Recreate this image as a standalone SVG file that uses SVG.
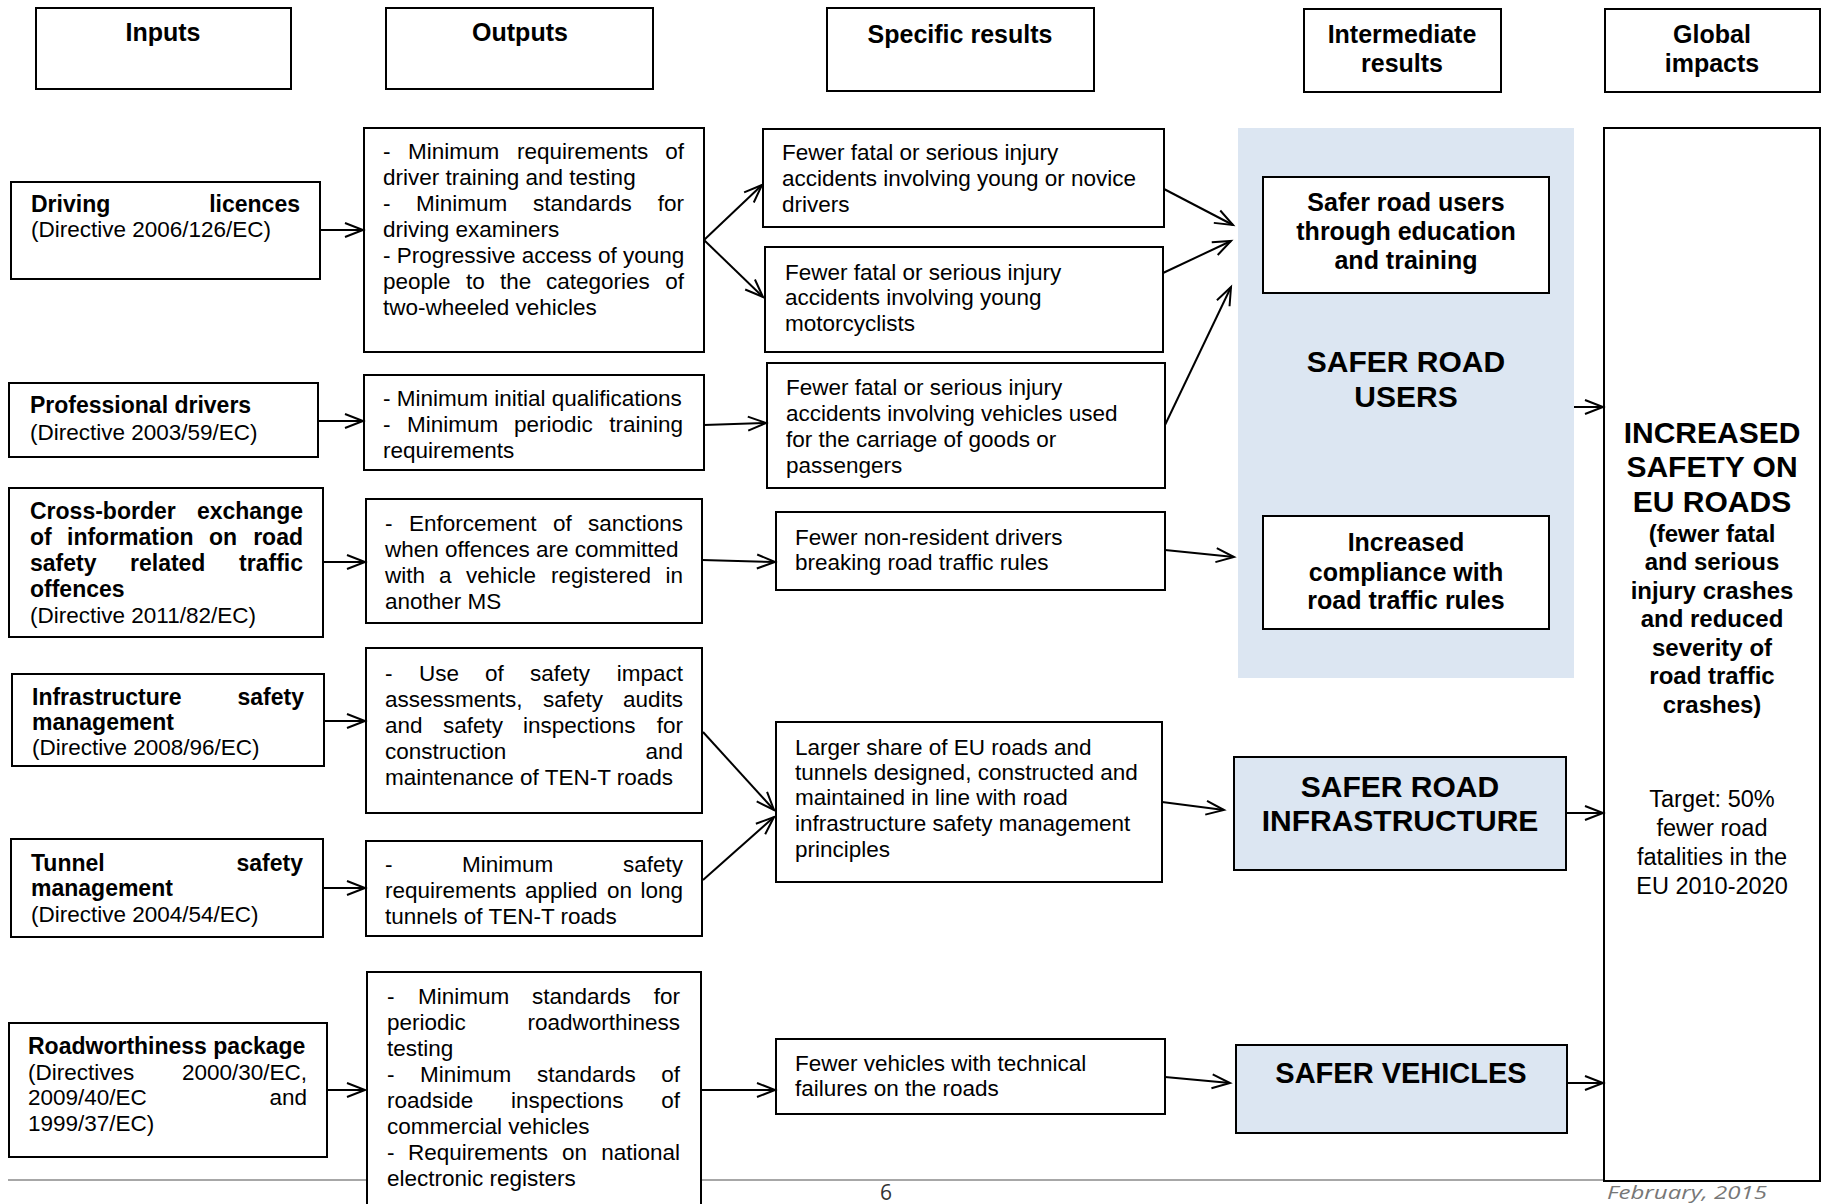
<svg xmlns="http://www.w3.org/2000/svg" width="1824" height="1204" viewBox="0 0 1824 1204">
<style>
.box{fill:#fff;stroke:#000;stroke-width:2}
.blue{fill:#dce6f2}
.bbox{fill:#dce6f2;stroke:#000;stroke-width:2}
text{font-family:"Liberation Sans",Arial,sans-serif;fill:#000}
.r{font-size:22.5px}
.ib{font-size:23px;font-weight:bold}
.h{font-size:25px;font-weight:bold;text-anchor:middle}
.big{font-size:30px;font-weight:bold;text-anchor:middle}
.gs{font-size:24px;font-weight:bold;text-anchor:middle}
.tg{font-size:23.5px;text-anchor:middle}
.e{text-anchor:end}
.c line{stroke:#000;stroke-width:2;marker-end:url(#arr)}
</style>
<defs>
<marker id="arr" viewBox="0 0 20 16" refX="18" refY="7" markerWidth="20" markerHeight="16" markerUnits="userSpaceOnUse" orient="auto" overflow="visible">
<path d="M0,0 L18,7 L0,14" fill="none" stroke="#000" stroke-width="2"/>
</marker>
</defs>
<rect width="1824" height="1204" fill="#fff"/>
<line x1="8" y1="1180" x2="1768" y2="1180" stroke="#8a8a8a" stroke-width="1.5"/>

<g id="hdr-inputs"><rect class="box" x="36" y="8" width="255" height="81"/><text class="h" x="163" y="41">Inputs</text></g>
<g id="hdr-outputs"><rect class="box" x="386" y="8" width="267" height="81"/><text class="h" x="520" y="41">Outputs</text></g>
<g id="hdr-specific"><rect class="box" x="827" y="8" width="267" height="83"/><text class="h" x="960" y="43">Specific results</text></g>
<g id="hdr-intermediate"><rect class="box" x="1304" y="9" width="197" height="83"/><text class="h" x="1402" y="43">Intermediate</text><text class="h" x="1402" y="72">results</text></g>
<g id="hdr-global"><rect class="box" x="1605" y="9" width="215" height="83"/><text class="h" x="1712" y="43">Global</text><text class="h" x="1712" y="72">impacts</text></g>

<g id="in-driving"><rect class="box" x="11" y="182" width="309" height="97"/>
<text class="ib" x="31" y="212">Driving</text><text class="ib e" x="300" y="212">licences</text>
<text class="r" x="31" y="237">(Directive 2006/126/EC)</text></g>

<g id="in-professional"><rect class="box" x="9" y="383" width="309" height="74"/>
<text class="ib" x="30" y="413">Professional drivers</text>
<text class="r" x="30" y="440">(Directive 2003/59/EC)</text></g>

<g id="in-crossborder"><rect class="box" x="9" y="488" width="314" height="149"/>
<text class="ib" x="30" y="519">Cross-border</text><text class="ib e" x="303" y="519">exchange</text>
<text class="ib" y="545"><tspan x="30">of</tspan><tspan x="67">information</tspan><tspan x="209">on</tspan></text><text class="ib e" x="303" y="545">road</text>
<text class="ib" y="571"><tspan x="30">safety</tspan><tspan x="130">related</tspan></text><text class="ib e" x="303" y="571">traffic</text>
<text class="ib" x="30" y="597">offences</text>
<text class="r" x="30" y="623">(Directive 2011/82/EC)</text></g>

<g id="in-infrastructure"><rect class="box" x="12" y="674" width="312" height="92"/>
<text class="ib" x="32" y="705">Infrastructure</text><text class="ib e" x="304" y="705">safety</text>
<text class="ib" x="32" y="730">management</text>
<text class="r" x="32" y="755">(Directive 2008/96/EC)</text></g>

<g id="in-tunnel"><rect class="box" x="11" y="839" width="312" height="98"/>
<text class="ib" x="31" y="871">Tunnel</text><text class="ib e" x="303" y="871">safety</text>
<text class="ib" x="31" y="896">management</text>
<text class="r" x="31" y="922">(Directive 2004/54/EC)</text></g>

<g id="in-roadworthiness"><rect class="box" x="9" y="1023" width="318" height="134"/>
<text class="ib" x="28" y="1054">Roadworthiness package</text>
<text class="r" x="28" y="1080">(Directives</text><text class="r e" x="307" y="1080">2000/30/EC,</text>
<text class="r" x="28" y="1105">2009/40/EC</text><text class="r e" x="307" y="1105">and</text>
<text class="r" x="28" y="1131">1999/37/EC)</text></g>

<g id="out-1"><rect class="box" x="364" y="128" width="340" height="224"/>
<text class="r" y="159"><tspan x="383">-</tspan><tspan x="408">Minimum</tspan><tspan x="517">requirements</tspan></text><text class="r e" x="684" y="159">of</text>
<text class="r" x="383" y="185">driver training and testing</text>
<text class="r" y="211"><tspan x="383">-</tspan><tspan x="416">Minimum</tspan><tspan x="533">standards</tspan></text><text class="r e" x="684" y="211">for</text>
<text class="r" x="383" y="237">driving examiners</text>
<text class="r" x="383" y="263">- Progressive access of young</text>
<text class="r" y="289"><tspan x="383">people</tspan><tspan x="466">to</tspan><tspan x="500">the</tspan><tspan x="546">categories</tspan></text><text class="r e" x="684" y="289">of</text>
<text class="r" x="383" y="315">two-wheeled vehicles</text></g>

<g id="out-2"><rect class="box" x="364" y="375" width="340" height="95"/>
<text class="r" x="383" y="406">- Minimum initial qualifications</text>
<text class="r" y="432"><tspan x="383">-</tspan><tspan x="407">Minimum</tspan><tspan x="514">periodic</tspan></text><text class="r e" x="683" y="432">training</text>
<text class="r" x="383" y="458">requirements</text></g>

<g id="out-3"><rect class="box" x="366" y="499" width="336" height="124"/>
<text class="r" y="531"><tspan x="385">-</tspan><tspan x="409">Enforcement</tspan><tspan x="553">of</tspan></text><text class="r e" x="683" y="531">sanctions</text>
<text class="r" x="385" y="557">when offences are committed</text>
<text class="r" y="583"><tspan x="385">with</tspan><tspan x="439">a</tspan><tspan x="466">vehicle</tspan><tspan x="551">registered</tspan></text><text class="r e" x="683" y="583">in</text>
<text class="r" x="385" y="609">another MS</text></g>

<g id="out-4"><rect class="box" x="366" y="648" width="336" height="165"/>
<text class="r" y="681"><tspan x="385">-</tspan><tspan x="419">Use</tspan><tspan x="485">of</tspan><tspan x="530">safety</tspan></text><text class="r e" x="683" y="681">impact</text>
<text class="r" y="707"><tspan x="385">assessments,</tspan><tspan x="543">safety</tspan></text><text class="r e" x="683" y="707">audits</text>
<text class="r" y="733"><tspan x="385">and</tspan><tspan x="443">safety</tspan><tspan x="523">inspections</tspan></text><text class="r e" x="683" y="733">for</text>
<text class="r" x="385" y="759">construction</text><text class="r e" x="683" y="759">and</text>
<text class="r" x="385" y="785">maintenance of TEN-T roads</text></g>

<g id="out-5"><rect class="box" x="366" y="841" width="336" height="95"/>
<text class="r" y="872"><tspan x="385">-</tspan><tspan x="462">Minimum</tspan></text><text class="r e" x="683" y="872">safety</text>
<text class="r" y="898"><tspan x="385">requirements</tspan><tspan x="525">applied</tspan><tspan x="607">on</tspan></text><text class="r e" x="683" y="898">long</text>
<text class="r" x="385" y="924">tunnels of TEN-T roads</text></g>

<g id="out-6"><rect class="box" x="367" y="972" width="334" height="240"/>
<text class="r" y="1004"><tspan x="387">-</tspan><tspan x="418">Minimum</tspan><tspan x="532">standards</tspan></text><text class="r e" x="680" y="1004">for</text>
<text class="r" x="387" y="1030">periodic</text><text class="r e" x="680" y="1030">roadworthiness</text>
<text class="r" x="387" y="1056">testing</text>
<text class="r" y="1082"><tspan x="387">-</tspan><tspan x="420">Minimum</tspan><tspan x="537">standards</tspan></text><text class="r e" x="680" y="1082">of</text>
<text class="r" y="1108"><tspan x="387">roadside</tspan><tspan x="511">inspections</tspan></text><text class="r e" x="680" y="1108">of</text>
<text class="r" x="387" y="1134">commercial vehicles</text>
<text class="r" y="1160"><tspan x="387">-</tspan><tspan x="408">Requirements</tspan><tspan x="562">on</tspan></text><text class="r e" x="680" y="1160">national</text>
<text class="r" x="387" y="1186">electronic registers</text></g>

<g id="spec-1"><rect class="box" x="763" y="129" width="401" height="98"/>
<text class="r" x="782" y="160">Fewer fatal or serious injury</text>
<text class="r" x="782" y="186">accidents involving young or novice</text>
<text class="r" x="782" y="212">drivers</text></g>

<g id="spec-2"><rect class="box" x="765" y="247" width="398" height="105"/>
<text class="r" x="785" y="280">Fewer fatal or serious injury</text>
<text class="r" x="785" y="305">accidents involving young</text>
<text class="r" x="785" y="331">motorcyclists</text></g>

<g id="spec-3"><rect class="box" x="767" y="363" width="398" height="125"/>
<text class="r" x="786" y="395">Fewer fatal or serious injury</text>
<text class="r" x="786" y="421">accidents involving vehicles used</text>
<text class="r" x="786" y="447">for the carriage of goods or</text>
<text class="r" x="786" y="473">passengers</text></g>

<g id="spec-4"><rect class="box" x="776" y="512" width="389" height="78"/>
<text class="r" x="795" y="545">Fewer non-resident drivers</text>
<text class="r" x="795" y="570">breaking road traffic rules</text></g>

<g id="spec-5"><rect class="box" x="776" y="722" width="386" height="160"/>
<text class="r" x="795" y="755">Larger share of EU roads and</text>
<text class="r" x="795" y="780">tunnels designed, constructed and</text>
<text class="r" x="795" y="805">maintained in line with road</text>
<text class="r" x="795" y="831">infrastructure safety management</text>
<text class="r" x="795" y="857">principles</text></g>

<g id="spec-6"><rect class="box" x="776" y="1039" width="389" height="75"/>
<text class="r" x="795" y="1071">Fewer vehicles with technical</text>
<text class="r" x="795" y="1096">failures on the roads</text></g>

<g id="int-safer-road-users">
<rect class="blue" x="1238" y="128" width="336" height="550"/>
<text class="big" x="1406" y="372">SAFER ROAD</text>
<text class="big" x="1406" y="407">USERS</text>
</g>
<g id="int-education"><rect class="box" x="1263" y="177" width="286" height="116"/>
<text class="h" x="1406" y="211">Safer road users</text>
<text class="h" x="1406" y="240">through education</text>
<text class="h" x="1406" y="269">and training</text></g>
<g id="int-compliance"><rect class="box" x="1263" y="516" width="286" height="113"/>
<text class="h" x="1406" y="551">Increased</text>
<text class="h" x="1406" y="581">compliance with</text>
<text class="h" x="1406" y="609">road traffic rules</text></g>
<g id="int-infrastructure"><rect class="bbox" x="1234" y="757" width="332" height="113"/>
<text class="big" x="1400" y="797">SAFER ROAD</text>
<text class="big" x="1400" y="831">INFRASTRUCTURE</text></g>
<g id="int-vehicles"><rect class="bbox" x="1236" y="1045" width="331" height="88"/>
<text class="big" x="1401" y="1083" style="font-size:29px">SAFER VEHICLES</text></g>

<g id="global"><rect class="box" x="1604" y="128" width="216" height="1053"/>
<text class="big" x="1712" y="443">INCREASED</text>
<text class="big" x="1712" y="477">SAFETY ON</text>
<text class="big" x="1712" y="512">EU ROADS</text>
<text class="gs" x="1712" y="542">(fewer fatal</text>
<text class="gs" x="1712" y="570">and serious</text>
<text class="gs" x="1712" y="599">injury crashes</text>
<text class="gs" x="1712" y="627">and reduced</text>
<text class="gs" x="1712" y="656">severity of</text>
<text class="gs" x="1712" y="684">road traffic</text>
<text class="gs" x="1712" y="713">crashes)</text>
<text class="tg" x="1712" y="807">Target: 50%</text>
<text class="tg" x="1712" y="836">fewer road</text>
<text class="tg" x="1712" y="865">fatalities in the</text>
<text class="tg" x="1712" y="894">EU 2010-2020</text></g>

<g id="connectors" class="c">
<line x1="320" y1="230" x2="363" y2="230"/>
<line x1="704" y1="240" x2="762" y2="185"/>
<line x1="704" y1="240" x2="763" y2="297"/>
<line x1="1164" y1="189" x2="1233" y2="225"/>
<line x1="1163" y1="273" x2="1231" y2="241"/>
<line x1="1165" y1="425" x2="1231" y2="287"/>
<line x1="318" y1="421" x2="363" y2="421"/>
<line x1="704" y1="425" x2="766" y2="423"/>
<line x1="323" y1="562" x2="365" y2="562"/>
<line x1="702" y1="560" x2="775" y2="562"/>
<line x1="1165" y1="550" x2="1234" y2="557"/>
<line x1="1574" y1="407" x2="1603" y2="407"/>
<line x1="324" y1="721" x2="365" y2="721"/>
<line x1="703" y1="732" x2="774" y2="810"/>
<line x1="323" y1="888" x2="365" y2="888"/>
<line x1="703" y1="880" x2="774" y2="817"/>
<line x1="1162" y1="802" x2="1224" y2="810"/>
<line x1="1566" y1="813" x2="1603" y2="813"/>
<line x1="327" y1="1090" x2="365" y2="1090"/>
<line x1="701" y1="1090" x2="775" y2="1090"/>
<line x1="1165" y1="1077" x2="1230" y2="1083"/>
<line x1="1567" y1="1083" x2="1603" y2="1083"/>
</g>

<text x="886" y="1200" text-anchor="middle" style="font-family:'Open Sans','DejaVu Sans',sans-serif;font-size:21px;fill:#333">6</text>
<text x="1607" y="1199" textLength="160" lengthAdjust="spacingAndGlyphs" style="font-family:'Open Sans','DejaVu Sans',sans-serif;font-size:19px;font-style:italic;fill:#777">February, 2015</text>
</svg>
